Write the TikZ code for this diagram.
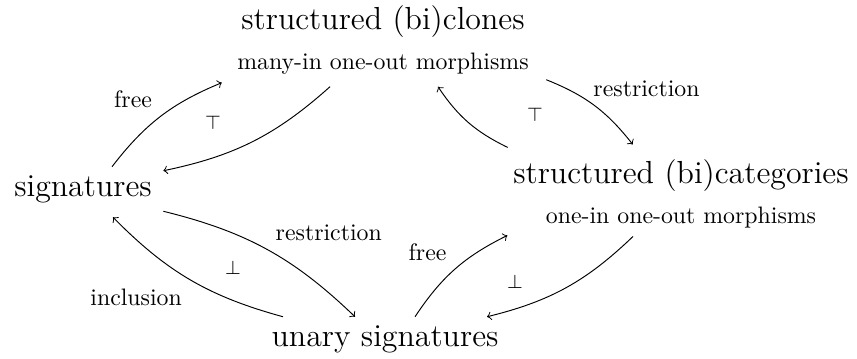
\documentclass[tikz,border=0pt]{standalone}
\usepackage{tikz}
\usetikzlibrary{positioning, calc}

\begin{document}
\begin{tikzpicture}[
    x=0.42pt, y=-0.42pt,
    >=to,
    every edge/.style={draw, thin},
    obj/.style={inner sep=3.4pt, font=\fontsize{13.4}{16}\selectfont},
    mor/.style={inner sep=3.4pt, font=\normalsize},
    lbl/.style={inner sep=3.4pt, font=\normalsize},
    adj/.style={inner sep=0pt, font=\footnotesize}]

    \useasboundingbox (0,0) rectangle (857,358);

    \node[obj] at (383,22) (clones) {structured (bi)clones};
    \node[mor, below=-1pt of clones] (clonesmor) {many-in one-out morphisms};

    \node[obj] at (681,176) (cats) {structured (bi)categories};
    \node[mor, below=-1pt of cats] (catsmor) {one-in one-out morphisms};

    \node[obj] at (83,189) (sig) {signatures};
    \node[obj] at (385,339) (unary) {unary signatures};

    %%% clones and signatures
    \path ($(sig.north)+(29,0)$) edge [->, bend left=15] node[lbl, above left] {free} ($(clonesmor.south west)+(-7,0)$);
    \path ($(clonesmor.south)+(-53,4)$) edge [->, bend left=15] ($(sig.north east)+(3,4)$);
    \node[adj] at (213,123) (topl) {$\top$};

    %%% clones and categories
    \path ($(clonesmor.south east)+(9,-3)$) edge [->, bend left=15] node[lbl, above right=0pt and -4pt] {restriction} ($(cats.north west)+(128,-7)$);
    \path ($(cats.north west)+(3,-4)$) edge [->, bend left=15] ($(clonesmor.south)+(55,4)$);
    \node[adj] at (535,115) (topr) {$\top$};

    %%% signatures and unary signatures
    \path ($(sig.south east)+(3,0)$) edge [->, bend left=15] node[lbl, above right] {restriction} ($(unary.north)+(-30,0)$);
    \path ($(unary.north)+(-102,0)$) edge [->, bend left=15] node[lbl, below left] {inclusion} ($(sig.south)+(30,6)$);
    \node[adj] at (233,268) (botl) {$\bot$};

    %%% unary signatures and categories
    \path ($(unary.north)+(30,0)$) edge [->, bend left=15] node[lbl, above left] {free} ($(catsmor.south west)+(-30,-1)$);
    \path ($(catsmor.south)+(-48,0)$) edge [->, bend left=15] ($(unary.north)+(102,0)$);
    \node[adj] at (515,282) (botr) {$\bot$};

\end{tikzpicture}
\end{document}
